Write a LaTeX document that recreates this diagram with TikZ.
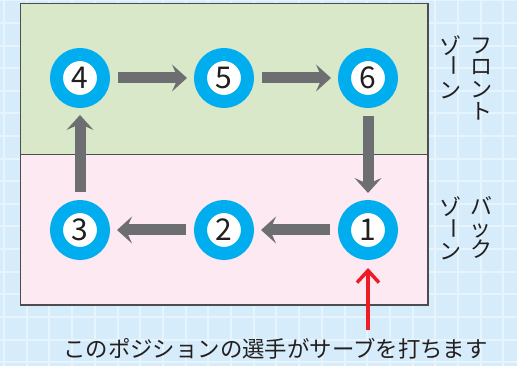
\documentclass[tikz,border=0pt]{standalone}
\usepackage{fontspec}
\setmainfont{Noto Sans CJK JP}
\usetikzlibrary{arrows.meta}
\definecolor{bgblue}{HTML}{D6ECFA}
\definecolor{gridc}{HTML}{E6F4FD}
\definecolor{zonegreen}{HTML}{D9E8C9}
\definecolor{zonepink}{HTML}{FCE9F1}
\definecolor{ringblue}{HTML}{00AEEF}
\definecolor{arrowgray}{HTML}{6D6E71}
\definecolor{servered}{HTML}{EE1C25}
\definecolor{inkc}{HTML}{231F20}
\definecolor{borderc}{HTML}{4D4D4F}
\begin{document}
\begin{tikzpicture}[x=1pt,y=-1pt,
  gridline/.style={draw=gridc,line width=2pt},
  zonebox/.style={draw=borderc,line width=1.2pt},
  posn/.style={circle,draw=ringblue,line width=13pt,fill=white,minimum size=47pt,inner sep=0pt,
    text=inkc,font=\fontsize{30}{30}\selectfont},
  garrow/.style={draw=arrowgray,line width=11pt,
    -{Stealth[length=15pt,width=27pt,inset=6pt,line width=0pt,fill=arrowgray]},
    shorten <=8pt,shorten >=7pt},
  rarrow/.style={draw=servered,line width=3.5pt,
    -{Straight Barb[length=12pt,width=22pt]},shorten >=8pt},
  vchar/.style={inner sep=0pt,anchor=center,text=inkc,font=\fontsize{22}{22}\selectfont},
  caption/.style={inner sep=0pt,anchor=base,text=inkc,font=\fontsize{22.4}{24}\selectfont}]
\useasboundingbox (0,0) rectangle (517,366);
\fill[bgblue] (0,0) rectangle (517,366);
\foreach \i in {0,...,22} \draw[gridline] ({4+22.7*\i},0) -- ++(0,366);
\foreach \j in {0,...,16} \draw[gridline] (0,{0.5+22.6*\j}) -- ++(517,0);
% zones
\fill[zonegreen] (20.5,3.5) rectangle (428,154.5);
\fill[zonepink] (20.5,154.5) rectangle (428,305);
\draw[zonebox] (20.5,3.5) rectangle (428,305);
\draw[zonebox] (20.5,154.5) -- (428,154.5);
% positions
\node[posn] (n4) at (80,78) {4};
\node[posn] (n5) at (224,78) {5};
\node[posn] (n6) at (368,78) {6};
\node[posn] (n3) at (80,230) {3};
\node[posn] (n2) at (224,230) {2};
\node[posn] (n1) at (368,230) {1};
% rotation arrows
\draw[garrow] (n4) -- (n5);
\draw[garrow] (n5) -- (n6);
\draw[garrow] (n6) -- (n1);
\draw[garrow] (n1) -- (n2);
\draw[garrow] (n2) -- (n3);
\draw[garrow] (n3) -- (n4);
% zone labels (vertical writing)
\node[vchar] (fa) at (481,46) {フ};
\node[vchar] (fb) at (481,67) {ロ};
\node[vchar] (fc) at (481,90) {ン};
\node[vchar] (fd) at (481,111) {ト};
\node[vchar] (za) at (450,45.5) {ゾ};
\node[vchar,rotate=-90] (zb) at (450.5,66) {ー};
\node[vchar] (zc) at (450,91) {ン};
\node[vchar] (ba) at (481,206) {バ};
\node[vchar] (bb) at (480,231) {ッ};
\node[vchar] (bc) at (481,249) {ク};
\node[vchar] (ya) at (450,207) {ゾ};
\node[vchar,rotate=-90] (yb) at (450.5,229) {ー};
\node[vchar] (yc) at (450,251.5) {ン};
% serve
\node[caption] (cap) at (275.5,357.5) {このポジションの選手がサーブを打ちます};
\coordinate (servetail) at (368,330);
\draw[rarrow] (servetail) -- (n1);
\end{tikzpicture}
\end{document}
